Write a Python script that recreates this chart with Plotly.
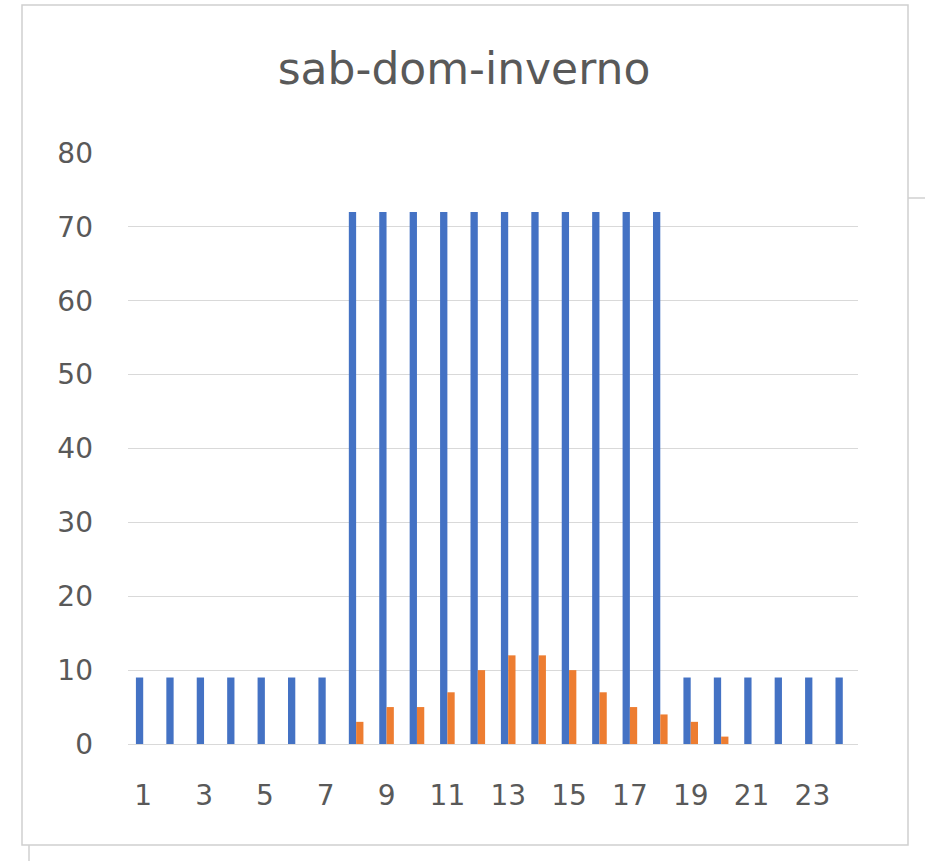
import plotly.graph_objects as go

hours = [str(h) for h in range(1, 25)]
blue_vals = [9, 9, 9, 9, 9, 9, 9, 72, 72, 72, 72, 72, 72, 72, 72, 72, 72, 72, 9, 9, 9, 9, 9, 9]
orange_vals = [0, 0, 0, 0, 0, 0, 0, 3, 5, 5, 7, 10, 12, 12, 10, 7, 5, 4, 3, 1, 0, 0, 0, 0]
tick_labels = [str(h) for h in range(1, 25, 2)]
title_text = "sab-dom-inverno"

W, H = 925, 861
L, R, T, B = 128, 858, 153, 744
FONT = "DejaVu Sans"
GREY = "#595959"

fig = go.Figure()
fig.add_trace(go.Bar(x=hours, y=blue_vals, marker=dict(color="#4472C4", line=dict(width=0)), name="s1"))
fig.add_trace(go.Bar(x=hours, y=orange_vals, marker=dict(color="#ED7D31", line=dict(width=0)), name="s2"))

def px(x):
    return (x - L) / (R - L)

def py(y):
    return (B - y) / (B - T)

border = dict(color="#d0d0d0", width=1.5)
shapes = [
    dict(type="rect", xref="paper", yref="paper", x0=px(22), x1=px(908), y0=py(845), y1=py(5), line=border),
    dict(type="line", xref="paper", yref="paper", x0=px(908), x1=px(925), y0=py(198), y1=py(198), line=border),
    dict(type="line", xref="paper", yref="paper", x0=px(29), x1=px(29), y0=py(845), y1=py(861), line=border),
]

fig.update_layout(
    width=W, height=H,
    margin=dict(l=L, r=W - R, t=T, b=H - B, pad=0),
    paper_bgcolor="white", plot_bgcolor="white",
    showlegend=False,
    barmode="group", bargap=0.52, bargroupgap=0.0,
    title=dict(text=title_text, x=464 / W, xanchor="center", y=1 - 69 / H, yanchor="middle",
               font=dict(family=FONT, size=44, color=GREY)),
    font=dict(family=FONT, color=GREY, size=28),
    shapes=shapes,
    xaxis=dict(type="category", tickmode="array", tickvals=tick_labels, ticktext=tick_labels,
               showgrid=False, showline=True, linecolor="#d9d9d9", linewidth=1.2,
               ticks="", ticklabelstandoff=26, tickfont=dict(family=FONT, size=28, color=GREY)),
    yaxis=dict(range=[0, 80], dtick=10, showgrid=True, gridcolor="#d9d9d9", gridwidth=1.2,
               zeroline=False, showline=False, ticks="", ticklabelstandoff=34,
               tickfont=dict(family=FONT, size=28, color=GREY)),
)

fig.write_html("out.html", config={"displayModeBar": False},
               post_script="document.body.style.margin='0px';document.body.style.padding='0px';document.body.style.overflow='hidden';")
